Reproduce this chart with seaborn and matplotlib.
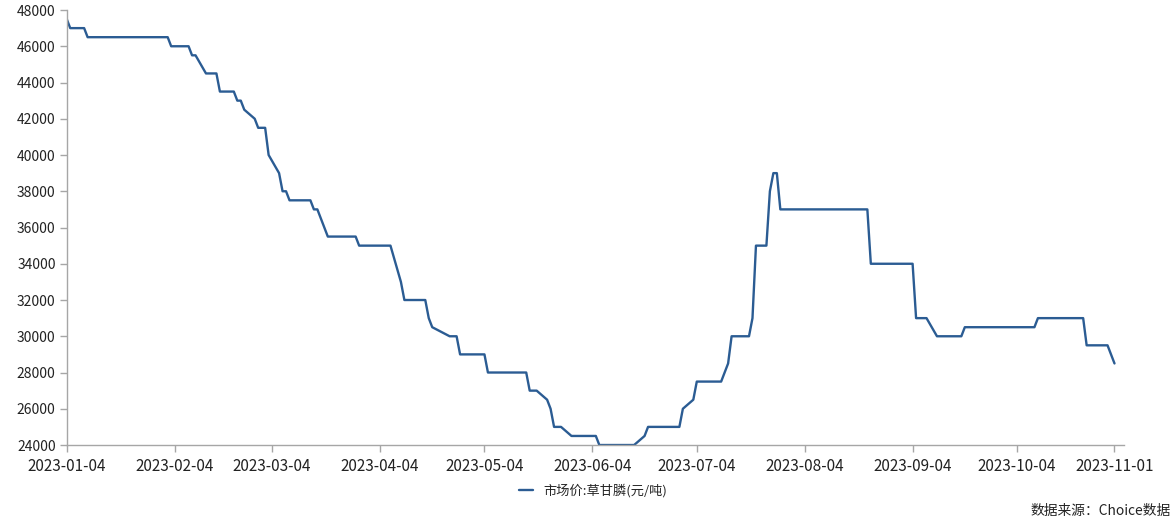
import pandas as pd
import seaborn as sns
import matplotlib.pyplot as plt
import matplotlib.dates as mdates

# price change points (元/吨)
dates = [
    "2023-01-04", "2023-01-05", "2023-01-09", "2023-01-10", "2023-02-02", "2023-02-03",
    "2023-02-08", "2023-02-09", "2023-02-10", "2023-02-13", "2023-02-16", "2023-02-17",
    "2023-02-21", "2023-02-22", "2023-02-23", "2023-02-24", "2023-02-27", "2023-02-28",
    "2023-03-02", "2023-03-03", "2023-03-06", "2023-03-07", "2023-03-08", "2023-03-09",
    "2023-03-15", "2023-03-16", "2023-03-17", "2023-03-20", "2023-03-28", "2023-03-29",
    "2023-04-07", "2023-04-10", "2023-04-11", "2023-04-17", "2023-04-18", "2023-04-19",
    "2023-04-24", "2023-04-26", "2023-04-27", "2023-05-04", "2023-05-05", "2023-05-16",
    "2023-05-17", "2023-05-19", "2023-05-22", "2023-05-23", "2023-05-24", "2023-05-26",
    "2023-05-29", "2023-06-05", "2023-06-06", "2023-06-16", "2023-06-19", "2023-06-20",
    "2023-06-29", "2023-06-30", "2023-07-03", "2023-07-04", "2023-07-11", "2023-07-13",
    "2023-07-14", "2023-07-19", "2023-07-20", "2023-07-21", "2023-07-24", "2023-07-25",
    "2023-07-26", "2023-07-27", "2023-07-28", "2023-08-22", "2023-08-23", "2023-09-04",
    "2023-09-05", "2023-09-08", "2023-09-11", "2023-09-18", "2023-09-19", "2023-10-09",
    "2023-10-10", "2023-10-23", "2023-10-24", "2023-10-30", "2023-11-01",
]
prices = [
    47500, 47000, 47000, 46500, 46500, 46000,
    46000, 45500, 45500, 44500, 44500, 43500,
    43500, 43000, 43000, 42500, 42000, 41500,
    41500, 40000, 39000, 38000, 38000, 37500,
    37500, 37000, 37000, 35500, 35500, 35000,
    35000, 33000, 32000, 32000, 31000, 30500,
    30000, 30000, 29000, 29000, 28000, 28000,
    27000, 27000, 26500, 26000, 25000, 25000,
    24500, 24500, 24000, 24000, 24500, 25000,
    25000, 26000, 26500, 27500, 27500, 28500,
    30000, 30000, 31000, 35000, 35000, 38000,
    39000, 39000, 37000, 37000, 34000, 34000,
    31000, 31000, 30000, 30000, 30500, 30500,
    31000, 31000, 29500, 29500, 28500,
]
tick_dates = ["2023-01-04", "2023-02-04", "2023-03-04", "2023-04-04", "2023-05-04",
              "2023-06-04", "2023-07-04", "2023-08-04", "2023-09-04", "2023-10-04",
              "2023-11-01"]
series_name = "市场价:草甘膦(元/吨)"

df = pd.DataFrame({"date": pd.to_datetime(dates), "price": prices})

sns.set_style("white")
plt.rcParams['font.family'] = ['Noto Sans CJK SC', 'DejaVu Sans']

fig = plt.figure(figsize=(11.75, 5.32), dpi=100)
ax = fig.add_axes([0.0568, 0.1635, 0.9001, 0.8177])

sns.lineplot(data=df, x="date", y="price", ax=ax, color="#2B5C93",
             linewidth=1.7, label=series_name, legend=False)

ax.set_xlim(pd.Timestamp("2023-01-04"), pd.Timestamp("2023-11-03 20:00"))
ax.set_ylim(24000, 48000)
ax.set_yticks(range(24000, 48001, 2000))
ax.set_xticks(pd.to_datetime(tick_dates))
ax.xaxis.set_major_formatter(mdates.DateFormatter("%Y-%m-%d"))
ax.set_xlabel("")
ax.set_ylabel("")

for s in ["top", "right"]:
    ax.spines[s].set_visible(False)
for s in ["left", "bottom"]:
    ax.spines[s].set_color("#a6a6a6")
    ax.spines[s].set_linewidth(1.0)
ax.tick_params(axis="both", which="major", length=5, width=1, color="#a6a6a6",
               labelcolor="#222222", pad=3, direction="out",
               left=True, bottom=True)
ax.tick_params(axis="x", labelsize=11, pad=4)
ax.tick_params(axis="y", labelsize=10)

handles, labels = ax.get_legend_handles_labels()
fig.legend(handles, labels, loc="center", bbox_to_anchor=(593 / 1175, 1 - 491 / 532),
           frameon=False, fontsize=9.5, handlelength=1.1, handletextpad=0.75)

fig.text(0.996, 1 - 511 / 532, "数据来源：Choice数据", ha="right", va="center",
         fontsize=9.9, color="#222222")

fig.savefig("out.png", dpi=100)
plt.close(fig)
